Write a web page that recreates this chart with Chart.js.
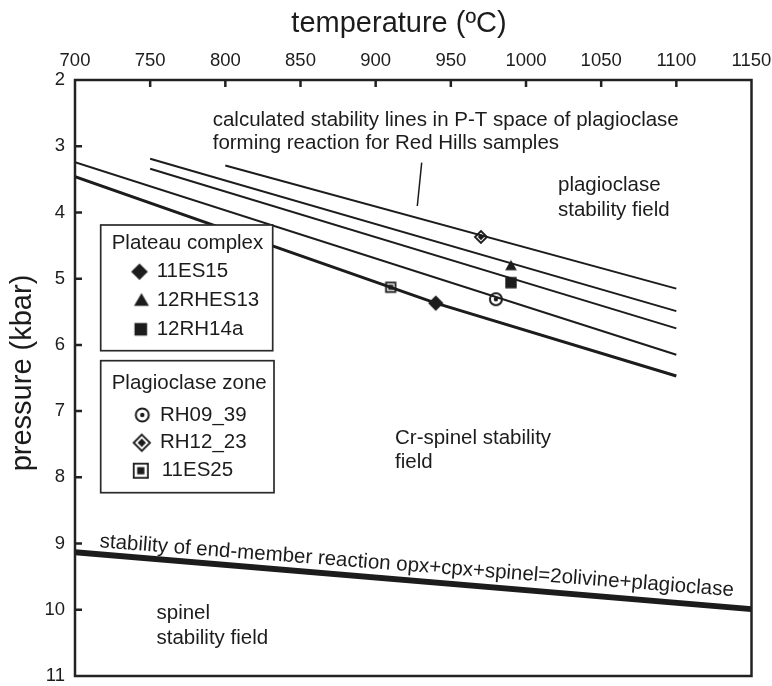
<!DOCTYPE html>
<html>
<head>
<meta charset="utf-8">
<script src="https://cdn.jsdelivr.net/npm/chart.js@4.4.1/dist/chart.umd.min.js"></script>
<style>
  html, body { margin: 0; padding: 0; background: #fff; }
  #wrap { width: 772px; height: 686px; }
</style>
</head>
<body>
<div id="wrap"><canvas id="ptChart"></canvas></div>
<script>
// axis ticks
const tempTicks = [700, 750, 800, 850, 900, 950, 1000, 1050, 1100, 1150];
const presTicks = [2, 3, 4, 5, 6, 7, 8, 9, 10, 11];

// calculated stability lines (T in degC, P in kbar)
const lineA_T = [800, 1100], lineA_P = [3.29, 5.15];
const lineB_T = [750, 1100], lineB_P = [3.19, 5.49];
const lineC_T = [750, 1100], lineC_P = [3.34, 5.75];
const lineD_T = [700, 1100], lineD_P = [3.24, 6.15];
const lineE_T = [700, 940, 1100], lineE_P = [3.46, 5.37, 6.47];

// end-member reaction
const endT = [700, 1150], endP = [9.13, 9.99];

// samples
const sampleNames = ["11ES15", "12RHES13", "12RH14a", "RH09_39", "RH12_23", "11ES25"];
const sampleT = [940, 990, 990, 980, 970, 910];
const sampleP = [5.37, 4.82, 5.06, 5.31, 4.37, 5.13];

const FONT = "'Liberation Sans', Arial, sans-serif";
const INK = "#1c1c1c";

const toXY = (ts, ps) => ts.map((t, i) => ({x: t, y: ps[i]}));

// marker glyphs drawn into small canvases
function makeMark(kind, r) {
  const c = document.createElement("canvas");
  c.width = 26; c.height = 26;
  const g = c.getContext("2d");
  const m = 13;
  g.fillStyle = INK; g.strokeStyle = INK;
  const diamond = (rr) => { g.beginPath(); g.moveTo(m, m - rr); g.lineTo(m + rr, m); g.lineTo(m, m + rr); g.lineTo(m - rr, m); g.closePath(); };
  if (kind === "diamond") { diamond(r); g.fill(); }
  if (kind === "triangle") {
    g.beginPath();
    g.moveTo(m, m - r);
    g.lineTo(m + r * 0.866, m + r * 0.5);
    g.lineTo(m - r * 0.866, m + r * 0.5);
    g.closePath(); g.fill();
  }
  if (kind === "square") { g.fillRect(m - r, m - r, 2 * r, 2 * r); }
  if (kind === "circdot") {
    g.lineWidth = 2;
    g.beginPath(); g.arc(m, m, r - 1, 0, Math.PI * 2);
    g.fillStyle = "#fff"; g.fill(); g.stroke();
    g.fillStyle = INK; g.beginPath(); g.arc(m, m, 2.2, 0, Math.PI * 2); g.fill();
  }
  if (kind === "diamdot") {
    g.lineWidth = 1.8;
    diamond(r - 1); g.fillStyle = "#fff"; g.fill(); g.stroke();
    g.fillStyle = INK; diamond(r * 0.45); g.fill();
  }
  if (kind === "sqdot") {
    g.lineWidth = 1.8;
    g.fillStyle = "#fff";
    g.fillRect(m - r + 0.9, m - r + 0.9, 2 * r - 1.8, 2 * r - 1.8);
    g.strokeRect(m - r + 0.9, m - r + 0.9, 2 * r - 1.8, 2 * r - 1.8);
    g.fillStyle = INK;
    const q = r * 0.45;
    g.fillRect(m - q, m - q, 2 * q, 2 * q);
  }
  return c;
}

const plotKinds = [["diamond", 7.7], ["triangle", 6.8], ["square", 5.7], ["circdot", 7], ["diamdot", 7], ["sqdot", 5.6]];
const legKinds = [["diamond", 8.3], ["triangle", 8.6], ["square", 6.3], ["circdot", 7.5], ["diamdot", 9.2], ["sqdot", 8]];
const plotMarks = plotKinds.map(k => makeMark(k[0], k[1]));
const legMarks = legKinds.map(k => makeMark(k[0], k[1]));

const thin = (ts, ps) => ({
  data: toXY(ts, ps), showLine: true, borderColor: INK, borderWidth: 2,
  pointRadius: 0, fill: false, tension: 0
});

const datasets = [
  thin(lineA_T, lineA_P),
  thin(lineB_T, lineB_P),
  thin(lineC_T, lineC_P),
  thin(lineD_T, lineD_P),
  Object.assign(thin(lineE_T, lineE_P), {borderWidth: 3}),
  Object.assign(thin(endT, endP), {borderWidth: 6})
];
sampleNames.forEach((name, i) => {
  datasets.push({
    label: name,
    data: [{x: sampleT[i], y: sampleP[i]}],
    pointStyle: plotMarks[i],
    pointRadius: 8,
    showLine: false
  });
});

const decor = {
  id: "decor",
  afterDatasetsDraw(chart) {
    const ctx = chart.ctx;
    ctx.save();
    ctx.fillStyle = INK;
    ctx.strokeStyle = INK;
    ctx.font = "20.5px " + FONT;
    ctx.textBaseline = "alphabetic";
    ctx.textAlign = "left";

    // annotation of the calculated lines
    ctx.fillText("calculated stability lines in P-T space of plagioclase", 212.7, 126);
    ctx.fillText("forming reaction for Red Hills samples", 212.7, 149);
    ctx.lineWidth = 1.5;
    ctx.beginPath(); ctx.moveTo(421.7, 162.7); ctx.lineTo(417.3, 206); ctx.stroke();

    ctx.fillText("plagioclase", 558, 191);
    ctx.fillText("stability field", 558, 215.5);
    ctx.fillText("Cr-spinel stability", 395, 443.5);
    ctx.fillText("field", 395, 467.5);
    ctx.fillText("spinel", 156.5, 619);
    ctx.fillText("stability field", 156.5, 643.5);

    // label along end-member line
    ctx.save();
    ctx.translate(99.3, 547.3);
    ctx.rotate(4.4 * Math.PI / 180);
    ctx.fillText("stability of end-member reaction opx+cpx+spinel=2olivine+plagioclase", 0, 0);
    ctx.restore();

    // legend boxes
    ctx.lineWidth = 1.7;
    ctx.strokeStyle = "#2a2a2a";
    const boxes = [
      {x: 100.7, y: 225, w: 172, h: 125.7, title: "Plateau complex", ty: 243.3,
       rows: [0, 1, 2], ry: [271.7, 300, 329.3], mx: [139.5, 141.5, 140.8], tx: [156.7, 156.7, 156.7], my: [0, 1.6, 0]},
      {x: 100.7, y: 360.7, w: 173.3, h: 132, title: "Plagioclase zone", ty: 383.3,
       rows: [3, 4, 5], ry: [415, 442.7, 470.7], mx: [142.3, 141.8, 140.8], tx: [160, 160, 161.7], my: [0, 0, 0]}
    ];
    boxes.forEach(b => {
      ctx.fillStyle = "#fff";
      ctx.fillRect(b.x, b.y, b.w, b.h);
      ctx.strokeRect(b.x, b.y, b.w, b.h);
      ctx.fillStyle = INK;
      ctx.textBaseline = "middle";
      ctx.fillText(b.title, 111.7, b.ty);
      b.rows.forEach((si, j) => {
        const mk = legMarks[si];
        ctx.drawImage(mk, b.mx[j] - mk.width / 2, b.ry[j] + b.my[j] - mk.height / 2);
        ctx.fillText(sampleNames[si], b.tx[j], b.ry[j]);
      });
    });

    // axis titles
    ctx.textBaseline = "alphabetic";
    ctx.font = "29px " + FONT;
    ctx.textAlign = "center";
    ctx.fillText("temperature (\u00baC)", 399, 32);
    ctx.save();
    ctx.translate(31, 373);
    ctx.rotate(-Math.PI / 2);
    ctx.fillText("pressure (kbar)", 0, 0);
    ctx.restore();
    ctx.restore();
  },
  afterDraw(chart) {
    const {ctx, chartArea: a, scales: {x, y}} = chart;
    ctx.save();
    ctx.strokeStyle = "#222";
    ctx.lineWidth = 2.5;
    ctx.strokeRect(a.left, a.top, a.right - a.left, a.bottom - a.top);
    ctx.beginPath();
    tempTicks.slice(1, -1).forEach(v => {
      const px = x.getPixelForValue(v);
      ctx.moveTo(px, a.top); ctx.lineTo(px, a.top + 7);
    });
    presTicks.slice(1, -1).forEach(v => {
      const py = y.getPixelForValue(v);
      ctx.moveTo(a.left, py); ctx.lineTo(a.left + 7, py);
    });
    ctx.stroke();
    ctx.restore();
  }
};

new Chart(document.getElementById("ptChart"), {
  type: "scatter",
  data: {datasets},
  options: {
    responsive: true,
    maintainAspectRatio: false,
    animation: false,
    layout: {padding: {top: 0, left: 0, right: 20.5, bottom: 10}},
    plugins: {legend: {display: false}, tooltip: {enabled: false}},
    scales: {
      x: {
        type: "linear", position: "top", min: 700, max: 1150,
        afterBuildTicks: s => { s.ticks = tempTicks.map(v => ({value: v})); },
        afterFit: s => { s.height = 80; s.paddingLeft = 0; s.paddingRight = 0; },
        grid: {display: false, drawTicks: false},
        border: {display: false},
        ticks: {font: {family: FONT, size: 18.5}, color: INK, padding: 8, autoSkip: false, maxRotation: 0,
                callback: v => String(v)}
      },
      y: {
        type: "linear", reverse: true, min: 2, max: 11,
        afterBuildTicks: s => { s.ticks = presTicks.map(v => ({value: v})); },
        afterFit: s => { s.width = 75; s.paddingTop = 0; s.paddingBottom = 0; },
        grid: {display: false, drawTicks: false},
        border: {display: false},
        ticks: {font: {family: FONT, size: 18.5}, color: INK, padding: 10, autoSkip: false,
                callback: v => String(v)}
      }
    }
  },
  plugins: [decor]
});
</script>
</body>
</html>
